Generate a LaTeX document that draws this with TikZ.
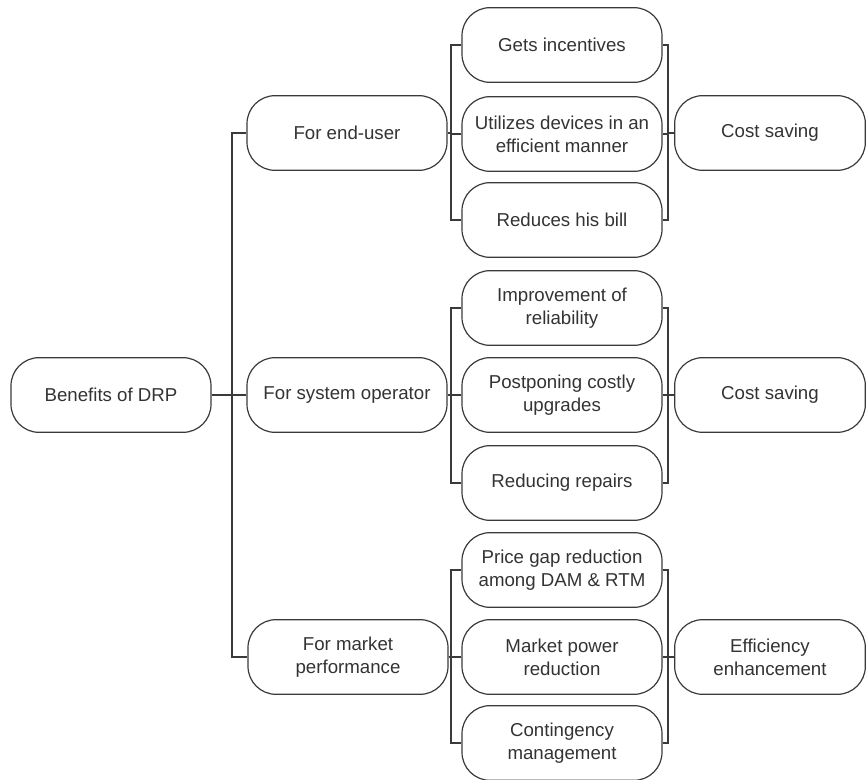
\documentclass[tikz,border=0pt]{standalone}
\usepackage{fontspec}
\setmainfont{Liberation Sans}
\begin{document}
\begin{tikzpicture}[x=0.75pt,y=-0.75pt,
  box/.style={draw=linec, line width=0.9pt, rounded corners=21pt, minimum width=150pt, minimum height=56pt,
    inner sep=1pt, align=center, text=textc, font=\fontsize{14}{17.25}\selectfont},
  rbox/.style={box, minimum width=143pt},
  conn/.style={draw=linec, line width=0.9pt}]
\definecolor{linec}{HTML}{3A3A3A}
\definecolor{textc}{HTML}{333333}
\useasboundingbox (0,0) rectangle (868,780);
\clip (0,0) rectangle (868,780);

\node[box] (root) at (111,395) {Benefits of DRP};
\node[box] (e1) at (347,133) {For end-user};
\node[box] (e2) at (347,395) {For system operator};
\node[box] (e3) at (348,657) {For market\\performance};

\node[box] (a1) at (562,45) {Gets incentives};
\node[box] (a2) at (562,134) {Utilizes devices in an\\efficient manner};
\node[box] (a3) at (562,220) {Reduces his bill};

\node[box] (b1) at (562,308) {Improvement of\\reliability};
\node[box] (b2) at (562,395) {Postponing costly\\upgrades};
\node[box] (b3) at (562,483) {Reducing repairs};

\node[box] (c1) at (562,570) {Price gap reduction\\among DAM \& RTM};
\node[box] (c2) at (562,657) {Market power\\reduction};
\node[box] (c3) at (562,743) {Contingency\\management};

\node[rbox] (r1) at (770,133) {Cost saving};
\node[rbox] (r2) at (770,395) {Cost saving};
\node[rbox] (r3) at (770,657) {Efficiency\\enhancement};

\coordinate (t0) at (232,0);
\coordinate (tl) at (451,0);
\coordinate (tr) at (668,0);

% trunk
\foreach \e in {e1,e2,e3}
  \draw[conn] (root.east) -- (root.east -| t0) |- (\e.west);

% left brackets
\foreach \p/\c in {e1/a1,e1/a2,e1/a3,e2/b1,e2/b2,e2/b3,e3/c1,e3/c2,e3/c3}
  \draw[conn] (\p.east) -- (\p.east -| tl) |- (\c.west);

% right brackets
\foreach \c/\r in {a1/r1,a2/r1,a3/r1,b1/r2,b2/r2,b3/r2,c1/r3,c2/r3,c3/r3}
  \draw[conn] (\c.east) -- (\c.east -| tr) |- (\r.west);
\end{tikzpicture}
\end{document}
